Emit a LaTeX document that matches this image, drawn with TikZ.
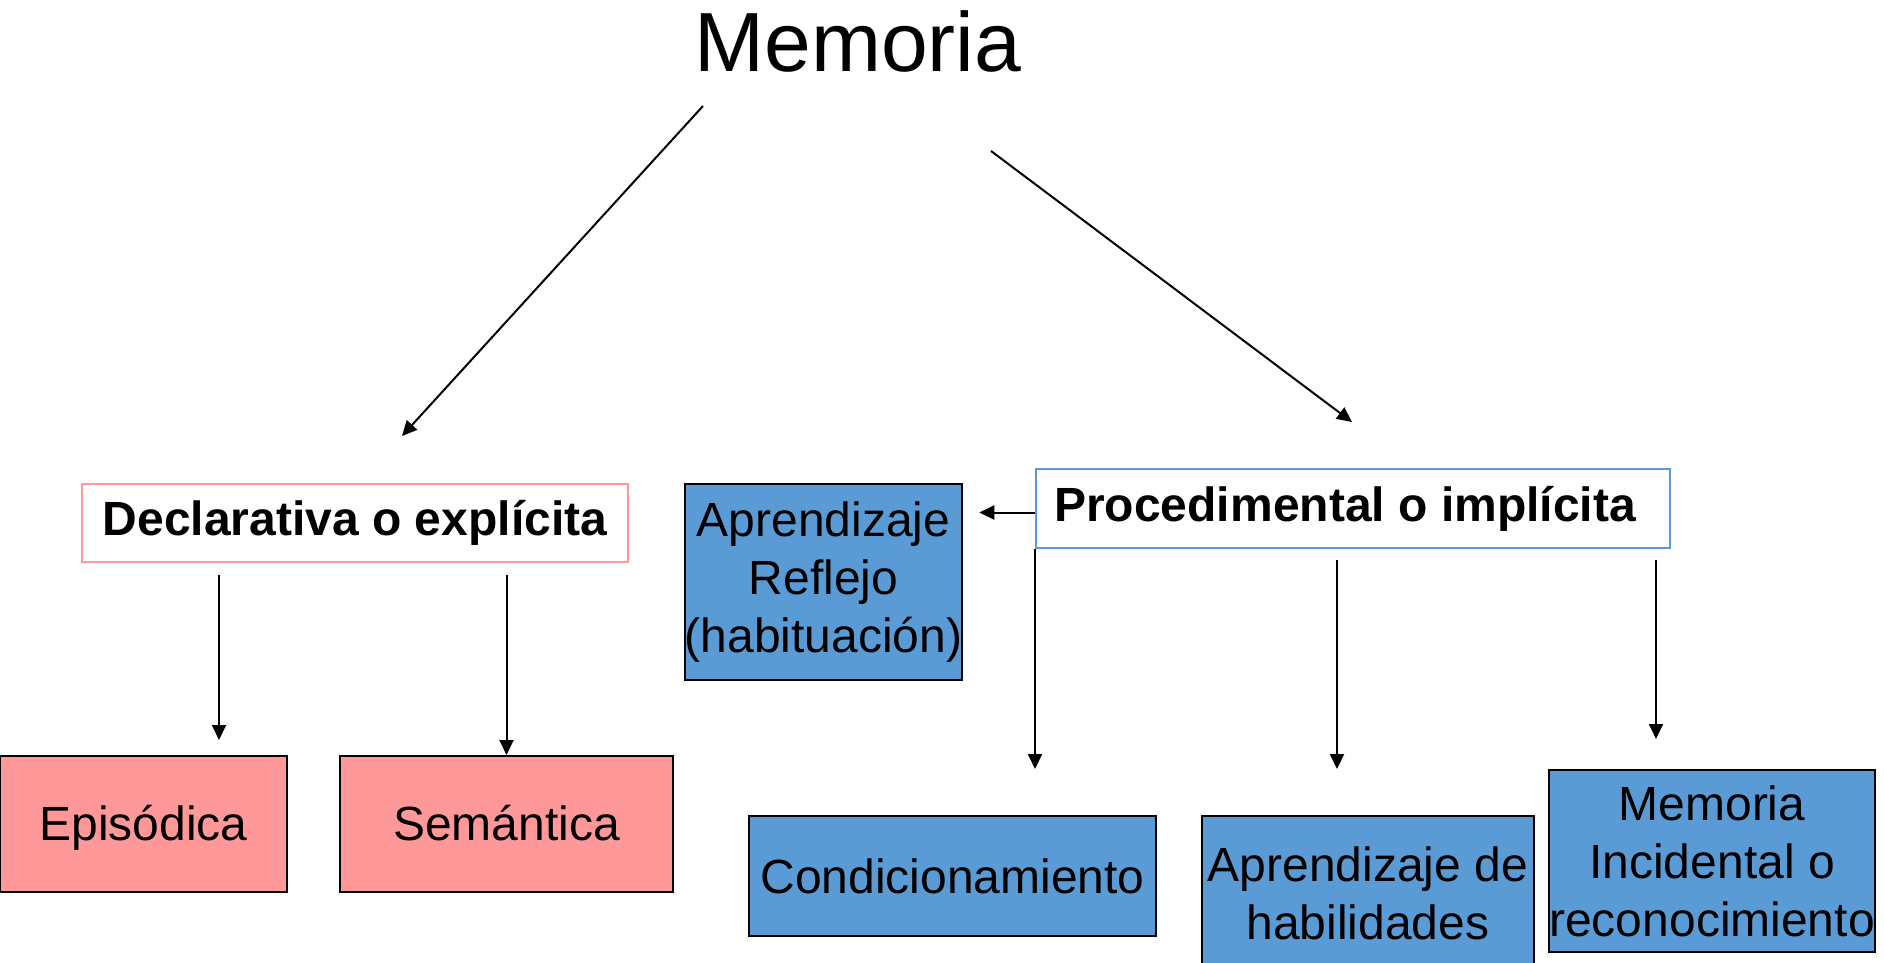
\documentclass[tikz,border=0pt]{standalone}
\usepackage{fontspec}
\setmainfont{Liberation Sans}
\usetikzlibrary{arrows.meta,positioning,calc}
\definecolor{memrosa}{HTML}{FF9999}
\definecolor{memazul}{HTML}{5B9BD5}
\tikzset{
  bx/.style={align=center, font=\fontsize{48}{58}\selectfont, inner sep=0pt, line width=2pt},
  rosa/.style={bx, draw=black, fill=memrosa, text height=39pt, text depth=6pt},
  azul/.style={bx, draw=black, fill=memazul},
  cab/.style={bx, font=\fontsize{48}{58}\selectfont\bfseries, fill=white},
  arr/.style={-{Triangle[length=15pt,width=14pt]}, line width=2pt, color=black},
}
\begin{document}
\begin{tikzpicture}[x=1pt, y=-1pt]
    \useasboundingbox (0,0) rectangle (1884,963);
    % title
    \node[font=\fontsize{84}{100}\selectfont, anchor=base, inner sep=0pt] (memoria) at (858,72) {Memoria};
    % second level
    \node[cab, draw=memrosa, line width=1.5pt, minimum width=546pt, minimum height=78pt] (decl) at (355,523) {Declarativa o explícita};
    \node[cab, draw=memazul, minimum width=634pt, minimum height=79pt] (proc) at (1353,508.5) {Procedimental o implícita\hspace*{16pt}};
    \node[azul, minimum width=273pt, minimum height=196pt] (refl) at (823.5,582) {Aprendizaje\\Reflejo\\(habituación)};
    % leaves
    \node[rosa, minimum width=287pt, minimum height=136pt] (epis) at (143.5,824) {Episódica};
    \node[rosa, minimum width=333pt, minimum height=136pt] (sem) at (506.5,824) {Semántica};
    \node[azul, minimum width=407pt, minimum height=120pt] (cond) at (952.5,876) {Condicionamiento};
    \node[azul, minimum width=332pt, minimum height=154pt] (habil) at (1368,893) {Aprendizaje de\\habilidades};
    \node[azul, minimum width=324pt, minimum height=182pt] (incid) at (1712,861) {Memoria\\Incidental o\\reconocimiento};
    % free ends
    \coordinate (m1) at (703,106);
    \coordinate (d1) at (402,436);
    \coordinate (m2) at (991,151);
    \coordinate (p1) at (1352,422);
    \coordinate (xe) at (219,0);
    \coordinate (xh) at (1337,0);
    \coordinate (xi) at (1656,0);
    \coordinate (pw) at ([yshift=-4pt]proc.west);
    \draw[arr] (m1) -- (d1);
    \draw[arr] (m2) -- (p1);
    \draw[arr, shorten <=12pt, shorten >=15pt] (decl.south -| xe) -- (epis.north -| xe);
    \draw[arr, shorten <=12pt] (decl.south -| sem.north) -- (sem.north);
    \draw[arr, shorten >=16pt] (pw) -- (pw -| refl.east);
    \draw[arr, shorten >=46pt] (proc.south west) -- (proc.south west |- cond.north);
    \draw[arr, shorten <=11pt, shorten >=46pt] (proc.south -| xh) -- (habil.north -| xh);
    \draw[arr, shorten <=11pt, shorten >=30pt] (proc.south -| xi) -- (incid.north -| xi);
  \end{tikzpicture}
\end{document}
